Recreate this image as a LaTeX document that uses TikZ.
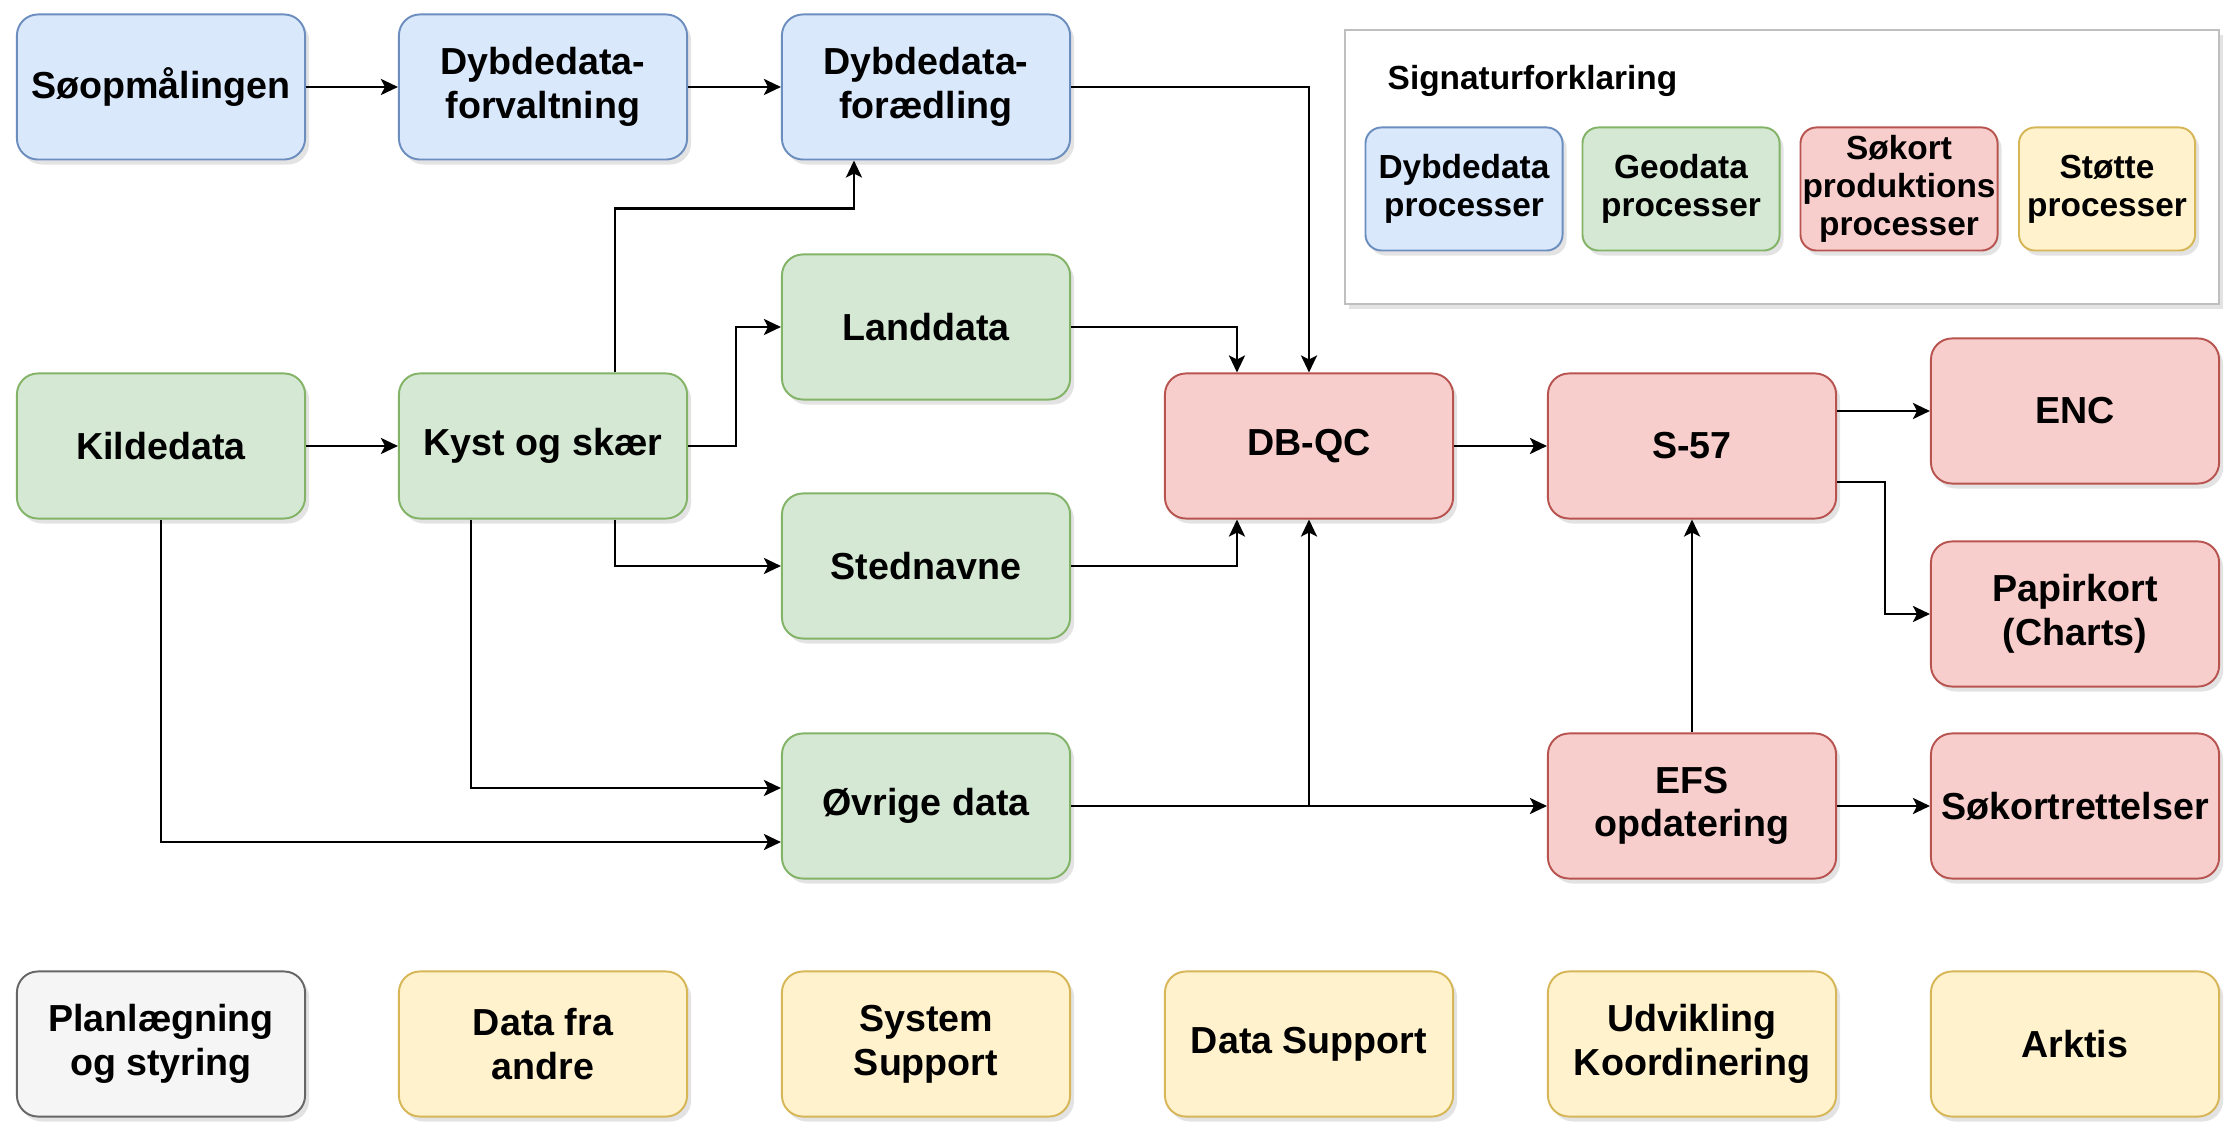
\documentclass[tikz,border=0pt]{standalone}
\usepackage{fontspec}
\setmainfont{Liberation Sans}
\usetikzlibrary{arrows.meta,shadows}
\definecolor{blueF}{HTML}{DAE8FC}
\definecolor{blueD}{HTML}{6C8EBF}
\definecolor{greenF}{HTML}{D5E8D4}
\definecolor{greenD}{HTML}{82B366}
\definecolor{redF}{HTML}{F8CECC}
\definecolor{redD}{HTML}{B85450}
\definecolor{yelF}{HTML}{FFF2CC}
\definecolor{yelD}{HTML}{D6B656}
\definecolor{grayF}{HTML}{F5F5F5}
\definecolor{grayD}{HTML}{666666}
\tikzset{
  proc/.style={draw, rounded corners=0.21cm, line width=0.55pt,
    minimum width=2.88cm, minimum height=1.45cm, inner sep=0pt, align=center,
    font=\fontsize{10.7}{12.4}\selectfont\bfseries,
    drop shadow={shadow xshift=0.04cm, shadow yshift=-0.05cm, opacity=0.22}},
  dyb/.style={proc, fill=blueF, draw=blueD},
  geo/.style={proc, fill=greenF, draw=greenD},
  kort/.style={proc, fill=redF, draw=redD},
  stotte/.style={proc, fill=yelF, draw=yelD},
  styr/.style={proc, fill=grayF, draw=grayD},
  leg/.style={minimum width=1.97cm, minimum height=1.23cm, rounded corners=0.16cm,
    font=\fontsize{9.5}{10.9}\selectfont\bfseries},
  flow/.style={-{Stealth[length=0.17cm, width=0.16cm, inset=0.04cm]}, line width=0.75pt},
}
\begin{document}
\begin{tikzpicture}[x=0.01cm, y=0.01cm]
    \path[use as bounding box, fill=white] (0,0) rectangle (2228,1121);
    \node[dyb] (Soop) at (161,1034) {Søopmålingen};
    \node[dyb] (Forv) at (543,1034) {Dybdedata-\\forvaltning};
    \draw[flow] (Soop) -- (Forv);
    \node[dyb] (Fored) at (926,1034) {Dybdedata-\\forædling};
    \draw[flow] (Forv) -- (Fored);
    \node[geo] (Kilde) at (161,675) {Kildedata};
    \node[geo] (Kyst) at (543,675) {Kyst og skær};
    \draw[flow] (Kilde) -- (Kyst);
    \node[geo] (Land) at (926,794) {Landdata};
    \node[geo] (Sted) at (926,555) {Stednavne};
    \node[geo] (Ovrige) at (926,315) {Øvrige data};
    \draw[flow] ([xshift=7.2mm]Kyst.north) -- ++(0,164) -| ([xshift=-7.2mm]Fored.south);
    \draw[flow] (Kyst.east) -- ++(48,0) |- (Land.west);
    \draw[flow] ([xshift=7.2mm]Kyst.south) |- (Sted.west);
    \draw[flow] ([xshift=-7.2mm]Kyst.south) |- ([yshift=1.8mm]Ovrige.west);
    \draw[flow] (Kilde.south) |- ([yshift=-3.6mm]Ovrige.west);
    \node[kort] (DBQC) at (1309,675) {DB-QC};
    \draw[flow] (Fored.east) -| (DBQC.north);
    \draw[flow] (Land.east) -| ([xshift=-7.2mm]DBQC.north);
    \draw[flow] (Sted.east) -| ([xshift=-7.2mm]DBQC.south);
    \node[kort] (S57) at (1692,675) {S-57};
    \draw[flow] (DBQC) -- (S57);
    \node[kort] (ENC) at (2075,710) {ENC};
    \draw[flow] (S57.east |- ENC.west) -- (ENC.west);
    \node[kort] (Papir) at (2075,507) {Papirkort\\(Charts)};
    \draw[flow] ([yshift=-3.6mm]S57.east) -- ++(48,0) |- (Papir.west);
    \node[kort] (EFS) at (1692,315) {EFS\\opdatering};
    \draw[flow] (Ovrige) -- (EFS);
    \draw[flow] (Ovrige -| DBQC) -- (DBQC.south);
    \draw[flow] (EFS) -- (S57);
    \node[kort] (Rett) at (2075,315) {Søkortrettelser};
    \draw[flow] (EFS) -- (Rett);
    \node[styr] (Plan) at (161,77) {Planlægning\\og styring};
    \node[stotte] (Andre) at (543,77) {Data fra\\andre};
    \node[stotte] (SysSup) at (926,77) {System\\Support};
    \node[stotte] (DataSup) at (1309,77) {Data Support};
    \node[stotte] (Udv) at (1692,77) {Udvikling\\Koordinering};
    \node[stotte] (Arktis) at (2075,77) {Arktis};
    \node[draw=black!25, fill=white, line width=0.6pt, minimum width=8.74cm, minimum height=2.73cm,
      drop shadow={shadow xshift=0.04cm, shadow yshift=-0.05cm, opacity=0.22}] (Legend) at (1782,954) {};
    \node[anchor=west, inner sep=0pt, font=\fontsize{9.5}{10.9}\selectfont\bfseries] (Title) at (1387,1040) {Signaturforklaring};
    \node[dyb, leg] (LDyb) at (1464,932) {Dybdedata\\processer};
    \node[geo, leg] (LGeo) at (1681,932) {Geodata\\processer};
    \node[kort, leg] (LKort) at (1899,932) {Søkort\\produktions\\processer};
    \node[stotte, leg, minimum width=1.76cm] (LStotte) at (2107,932) {Støtte\\processer};
\end{tikzpicture}
\end{document}
